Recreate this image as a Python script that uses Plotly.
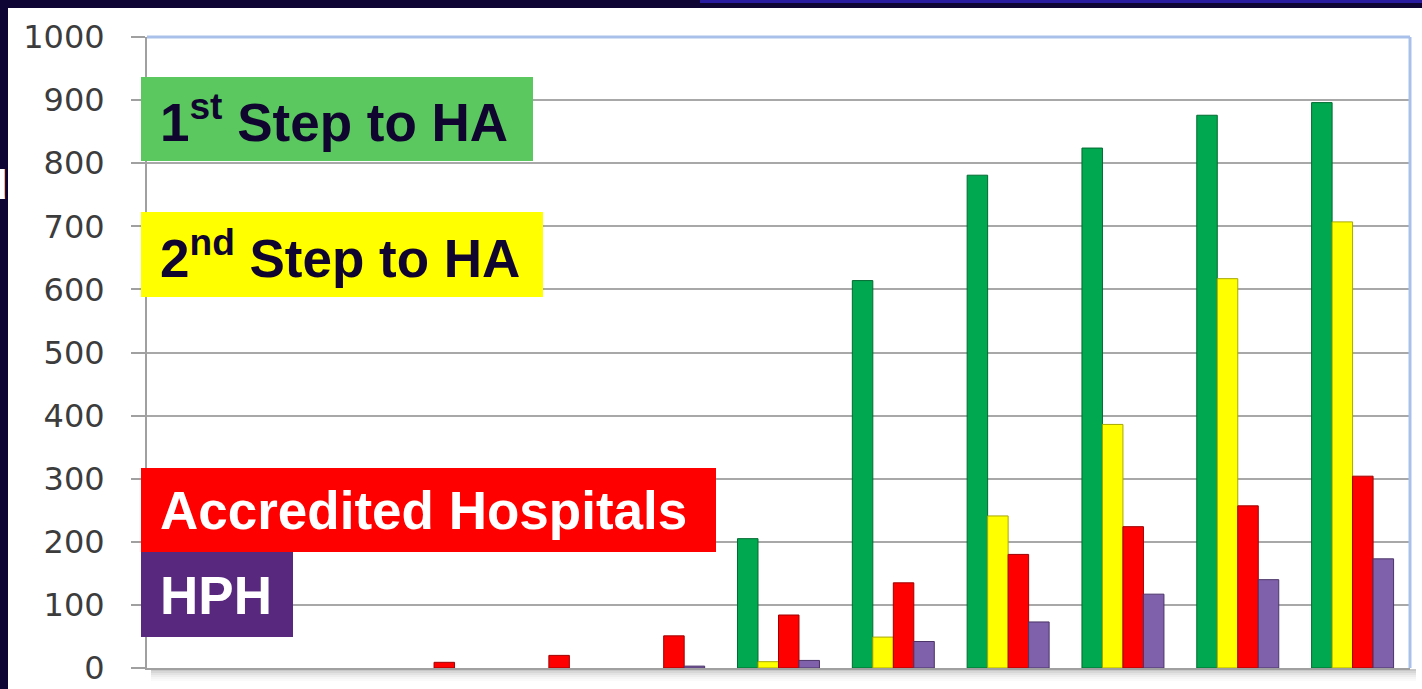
import plotly.graph_objects as go

# ---------------- data ----------------
categories = ["2002", "2003", "2004", "2005", "2006", "2007",
              "2008", "2009", "2010", "2011", "2012"]
first_step = [0, 0, 0, 0, 0, 205, 614, 781, 824, 876, 896]
second_step = [0, 0, 0, 0, 0, 10, 49, 241, 386, 617, 707]
accredited = [0, 0, 9, 20, 51, 84, 135, 180, 224, 257, 304]
hph = [0, 0, 0, 0, 3, 12, 42, 73, 117, 140, 173]
y_ticks = [0, 100, 200, 300, 400, 500, 600, 700, 800, 900, 1000]

series = [
    ("1st Step to HA", first_step, "#00a84f", "#006b30"),
    ("2nd Step to HA", second_step, "#ffff00", "#a8a800"),
    ("Accredited Hospitals", accredited, "#ff0000", "#a00000"),
    ("HPH", hph, "#7f60aa", "#4a3468"),
]

# ---------------- layout geometry (pixels) ----------------
W, H = 1422, 689
L, R, T, B = 147, 1410, 37, 668  # plot area edges


def px(x):
    return (x - L) / (R - L)


def py(y):
    return (B - y) / (B - T)


fig = go.Figure()
for name, vals, col, edge in series:
    fig.add_trace(go.Bar(
        x=categories, y=vals, name=name,
        marker=dict(color=col,
                    line=dict(color=edge, width=[1 if v > 0 else 0 for v in vals])),
        showlegend=False,
    ))

shapes = []
# white slide panel over the dark background
shapes.append(dict(type="rect", xref="paper", yref="paper",
                   x0=px(8), x1=px(W + 5), y0=py(H + 5), y1=py(8),
                   fillcolor="white", line=dict(width=0), layer="below"))
# bluish glow at top edge
shapes.append(dict(type="rect", xref="paper", yref="paper",
                   x0=px(700), x1=px(W + 5), y0=py(3), y1=py(-2),
                   fillcolor="#2a1ca0", line=dict(width=0), layer="below"))
# soft shadow under the x axis
for i, op in enumerate([0.55, 0.4, 0.28, 0.18, 0.1, 0.05]):
    shapes.append(dict(type="rect", xref="paper", yref="paper",
                       x0=px(L + 4), x1=px(R + 6),
                       y0=py(B + 3 + 2 * i), y1=py(B + 1 + 2 * i),
                       fillcolor="#9a9a9a", opacity=op,
                       line=dict(width=0), layer="below"))
# light blue top / right frame
shapes.append(dict(type="line", xref="paper", yref="paper",
                   x0=0, x1=1, y0=1, y1=1,
                   line=dict(color="#a9c1ea", width=3), layer="above"))
shapes.append(dict(type="line", xref="paper", yref="paper",
                   x0=1, x1=1, y0=0, y1=1,
                   line=dict(color="#a9c1ea", width=3), layer="above"))

# legend boxes
boxes = [
    (141, 533, 77, 161, "#5bc85f"),
    (141, 543, 212, 297, "#ffff00"),
    (141, 716, 468, 552, "#ff0000"),
    (141, 293, 552, 637, "#58287f"),
]
for x0, x1, y0, y1, c in boxes:
    shapes.append(dict(type="rect", xref="paper", yref="paper",
                       x0=px(x0), x1=px(x1), y0=py(y1), y1=py(y0),
                       fillcolor=c, line=dict(width=0), layer="above"))

labels = [
    ("1<sup>st</sup> Step to HA", 119, "#10052e"),
    ("2<sup>nd</sup> Step to HA", 255, "#10052e"),
    ("Accredited Hospitals", 510, "#ffffff"),
    ("HPH", 595, "#ffffff"),
]
annotations = []
for txt, yc, col in labels:
    annotations.append(dict(
        text="<b>" + txt + "</b>", xref="paper", yref="paper",
        x=px(158), y=py(yc), xanchor="left", yanchor="middle",
        showarrow=False,
        font=dict(family="Liberation Sans, Arial, sans-serif", size=53, color=col),
    ))
# clipped letter at the slide's left edge
annotations.append(dict(
    text="<b>d</b>", xref="paper", yref="paper",
    x=px(9), y=py(185), xanchor="right", yanchor="middle",
    showarrow=False,
    font=dict(family="Liberation Sans, Arial, sans-serif", size=40, color="#ffffff"),
))

fig.update_layout(
    width=W, height=H, autosize=False,
    margin=dict(l=L, r=W - R, t=T, b=H - B, pad=0, autoexpand=False),
    paper_bgcolor="#0e0535",
    plot_bgcolor="white",
    barmode="group", bargap=0.286, bargroupgap=0,
    shapes=shapes, annotations=annotations,
    xaxis=dict(showticklabels=False, ticks="", showgrid=False, automargin=False,
               showline=True, linecolor="#a0a0a0", linewidth=2,
               zeroline=False, range=[-0.5, len(categories) - 0.5]),
    yaxis=dict(range=[0, 1000], tickvals=y_ticks, automargin=False,
               ticks="outside", ticklen=14, tickwidth=2, tickcolor="#a0a0a0",
               ticklabelstandoff=20,
               tickfont=dict(family="DejaVu Sans, Verdana, sans-serif", size=32,
                             color="#3c3c3c"),
               showgrid=True, gridcolor="#a8a8a8", gridwidth=2,
               showline=True, linecolor="#a0a0a0", linewidth=2,
               zeroline=False),
)

fig.write_html("out.html")
